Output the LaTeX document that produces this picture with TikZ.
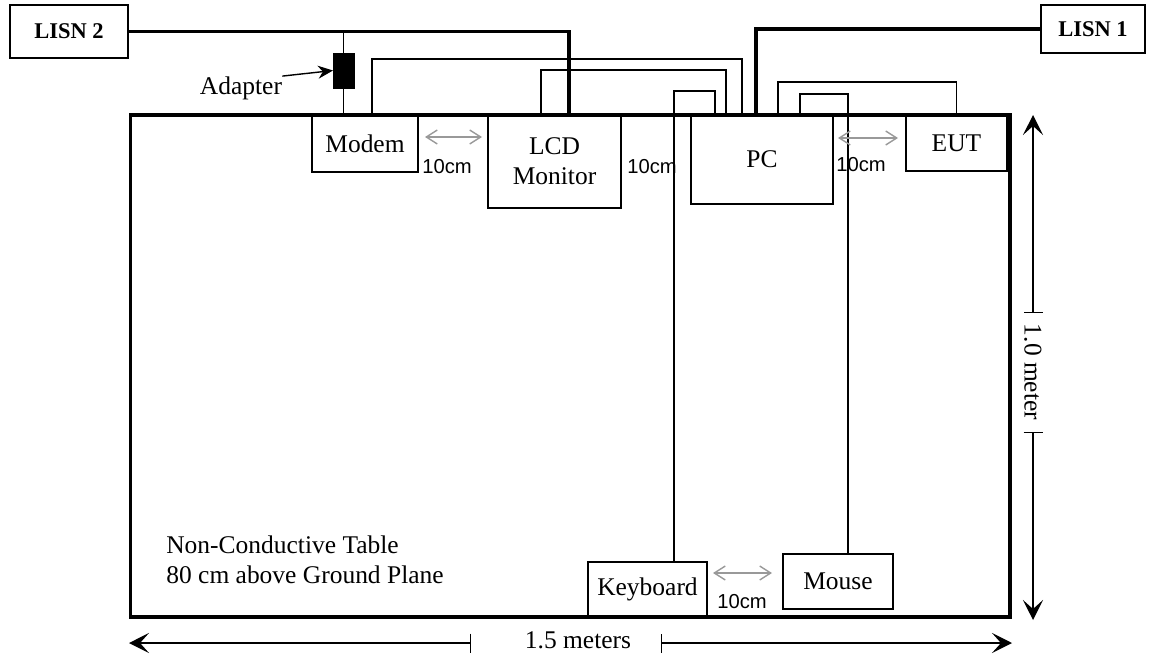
\documentclass[tikz,border=0pt]{standalone}
\usepackage{fontspec}
\setmainfont{Liberation Serif}
\newfontfamily\arialfont{Liberation Sans}
\usetikzlibrary{arrows.meta,positioning,calc}
\definecolor{gapgray}{gray}{0.6}

\begin{document}
\begin{tikzpicture}[x=0.02cm, y=-0.02cm,
    device/.style={draw, line width=0.8pt, inner sep=0pt, outer sep=0pt, font=\fontsize{14.5}{17}\selectfont, align=center},
    lisn/.style={draw, line width=0.8pt, inner sep=0pt, outer sep=0pt, font=\fontsize{12.8}{15}\selectfont\bfseries},
    cable/.style={line width=0.8pt},
    powercable/.style={line width=1.8pt},
    gaparrow/.style={{Straight Barb[length=2.2mm,width=2.8mm]}-{Straight Barb[length=2.2mm,width=2.8mm]}, draw=gapgray, line width=0.8pt},
    gaplabel/.style={font=\arialfont\fontsize{11.5}{13}\selectfont, inner sep=0pt},
    measure/.style={line width=0.8pt},
    txt/.style={font=\fontsize{14.5}{17}\selectfont, inner sep=0pt}
]
    \useasboundingbox (0,0) rectangle (1154,659);

    % table and equipment
    \node[draw, line width=1.8pt, minimum width=17.6cm, minimum height=10.04cm, inner sep=0pt] (tbl) at (570,366) {};
    \node[lisn, minimum width=2.36cm, minimum height=1.06cm] (lisn2) at (69,31.5) {LISN 2};
    \node[lisn, minimum width=2.08cm, minimum height=0.96cm] (lisn1) at (1093,29) {LISN 1};
    \node[device, minimum width=2.12cm, minimum height=1.14cm] (modem) at (365,143.5) {Modem};
    \node[device, minimum width=2.66cm, minimum height=1.86cm] (lcd) at (554.5,161.5) {LCD\\Monitor};
    \node[device, minimum width=2.84cm, minimum height=1.78cm] (pc) at (762,159.5) {PC};
    \node[device, minimum width=2.02cm, minimum height=1.12cm] (eut) at (956.5,143) {EUT};
    \node[device, minimum width=2.38cm, minimum height=1.1cm] (kbd) at (647.5,589.5) {Keyboard};
    \node[device, minimum width=2.2cm, minimum height=1.1cm] (mouse) at (838,581.5) {Mouse};
    \node[draw, fill=black, minimum width=0.42cm, minimum height=0.7cm, inner sep=0pt, outer sep=0pt] (adapter) at (343.5,70.5) {};
    \node[txt] (adlabel) at (241,88) {Adapter};

    % cables
    \draw[powercable] (lisn2.east) -| ([xshift=0.29cm]lcd.north);
    \draw[powercable] (lisn1.west) -| ([xshift=-0.12cm]pc.north);
    \draw[cable] (adapter.north) -- (adapter.north |- lisn2.east);
    \draw[cable] (adapter.south) -- (adapter.south |- modem.north);
    \draw[cable] ([xshift=0.14cm]modem.north) -- ++(0,-56) -| ([xshift=-0.4cm]pc.north);
    \draw[cable] ([xshift=-0.27cm]lcd.north) -- ++(0,-45) -| ([xshift=-0.72cm]pc.north);
    \draw[cable] ([xshift=0.53cm]kbd.north) -- ++(0,-471) -| ([xshift=-0.94cm]pc.north);
    \draw[cable] ([xshift=0.32cm]pc.north) -- ++(0,-33) -| (eut.north);
    \draw[cable] ([xshift=0.76cm]pc.north) -- ++(0,-21) -| ([xshift=0.2cm]mouse.north);
    \draw[cable, -{Stealth[length=3mm,width=2.6mm]}] (adlabel.north east) -- (adapter.west);

    % spacing
    \draw[gaparrow] (425,137) -- (482,137);
    \draw[gaparrow] (838,138) -- (898,138);
    \draw[gaparrow] (713,573) -- (772,573);
    \node[gaplabel] (gap1) at (447,167) {10cm};
    \node[gaplabel] (gap2) at (652,167) {10cm};
    \node[gaplabel] (gap3) at (861,165) {10cm};
    \node[gaplabel] (gap4) at (742,602) {10cm};

    \node[txt, align=left, anchor=west] (tblnote) at (166,560) {Non-Conductive Table\\80 cm above Ground Plane};

    % dimensions
    \node[txt] (widthlbl) at (578,640) {1.5 meters};
    \draw[measure, {Stealth[length=4mm,width=4mm,inset=1.8mm]}-{Bar[width=3.8mm]}] (129,643) -- (471,643);
    \draw[measure, {Bar[width=3.8mm]}-{Stealth[length=4mm,width=4mm,inset=1.8mm]}] (661,643) -- (1012,643);
    \node[txt, rotate=-90] (heightlbl) at (1033,372) {1.0 meter};
    \draw[measure, {Stealth[length=4mm,width=4mm,inset=1.8mm]}-{Bar[width=3.8mm]}] (1033,115) -- (1033,313);
    \draw[measure, {Bar[width=3.8mm]}-{Stealth[length=4mm,width=4mm,inset=1.8mm]}] (1033,432) -- (1033,620);
\end{tikzpicture}
\end{document}
